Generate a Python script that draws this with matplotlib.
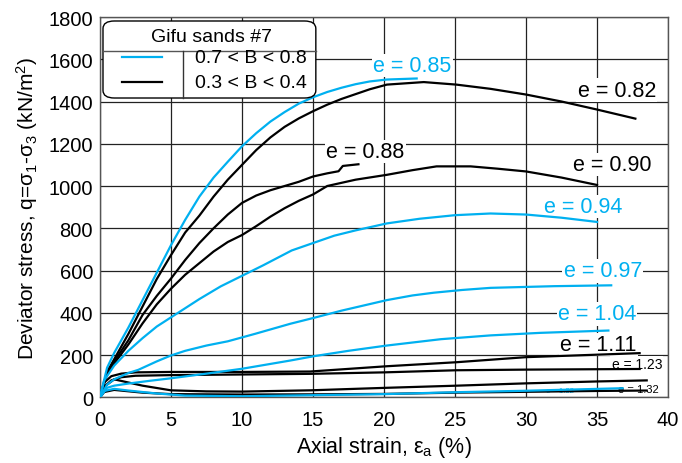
import matplotlib
matplotlib.use("Agg")
import matplotlib.pyplot as plt
from matplotlib.patches import FancyBboxPatch
from matplotlib.lines import Line2D

plt.rcParams['font.family'] = ['Liberation Sans', 'DejaVu Sans']
plt.rcParams['mathtext.fontset'] = 'custom'
plt.rcParams['mathtext.rm'] = 'Liberation Sans'
plt.rcParams['mathtext.it'] = 'Liberation Sans:italic'

CYAN = '#00B0F0'
BLACK = '#000000'

# ---- data (axial strain %, deviator stress kN/m2) ----
x_085 = [0, 0.5, 1, 2, 3, 4, 5, 6, 7, 8, 9, 10, 11, 12, 13, 14, 15, 16, 17, 18, 19, 20.2, 22.3]
q_085 = [0, 140, 210, 330, 460, 590, 720, 840, 950, 1040, 1115, 1188, 1250, 1305, 1350, 1390,
         1420, 1445, 1465, 1482, 1495, 1504, 1509]

x_082 = [0, 0.5, 1, 2, 3, 4, 5, 6, 7, 8, 9, 10, 11, 12, 13, 14, 15, 16, 17, 18, 19, 20.2,
         22.8, 25.1, 27.5, 30, 32.5, 35, 37.7]
q_082 = [0, 120, 180, 300, 430, 560, 673, 780, 860, 950, 1030, 1100, 1170, 1230, 1280, 1320,
         1354, 1385, 1412, 1435, 1458, 1480, 1492, 1480, 1460, 1433, 1400, 1362, 1319]

x_088 = [0, 0.5, 1, 2, 3, 4, 5, 6, 7, 8, 9, 10, 11, 12, 13, 14, 15, 16, 16.8, 17.1, 18.2]
q_088 = [0, 120, 170, 270, 390, 480, 562, 650, 730, 800, 865, 920, 955, 980, 1000, 1020,
         1045, 1060, 1070, 1095, 1103]

x_090 = [0, 0.5, 1, 2, 3, 4, 5, 6, 7, 8, 9, 10, 11, 12, 13, 14, 15, 16, 17, 18, 20.2, 22,
         23.7, 26.1, 28, 30, 32.5, 35]
q_090 = [0, 110, 160, 250, 350, 440, 514, 580, 635, 690, 735, 768, 810, 855, 895, 930, 960,
         1000, 1015, 1030, 1053, 1075, 1093, 1093, 1082, 1069, 1040, 1005]

x_094 = [0, 0.3, 1, 2, 3, 4, 5.5, 7, 8.5, 10, 11.5, 13.5, 15, 16.5, 18, 20.2, 22.5, 25, 27.5,
         30, 32.5, 35]
q_094 = [0, 80, 150, 220, 280, 335, 400, 465, 525, 575, 625, 695, 730, 765, 790, 823, 845,
         862, 870, 865, 850, 830]

x_097 = [0, 0.5, 1, 2, 2.7, 4, 5, 6, 7.5, 9, 10.9, 13.4, 15, 17, 20.2, 22, 23.5, 25.5, 27.5, 32, 36]
q_097 = [0, 60, 85, 115, 130, 170, 198, 220, 245, 265, 300, 348, 375, 410, 460, 482, 495,
         508, 518, 526, 530]

x_104 = [0, 0.5, 1, 2, 3.5, 5, 7.5, 10, 13.4, 15.1, 17.5, 20.2, 24, 27.5, 31, 35.8]
q_104 = [0, 45, 55, 65, 78, 90, 112, 135, 174, 195, 220, 245, 275, 293, 305, 316]

x_132c = [0, 0.3, 1, 2, 4, 6, 10, 15, 20, 25, 30, 36.8]
q_132c = [0, 30, 40, 32, 18, 8, 5, 10, 15, 24, 31, 43]

x_111 = [0, 0.3, 0.8, 1.5, 2.5, 5, 10, 14.8, 20.2, 25.1, 30, 34.7, 38]
q_111 = [0, 70, 100, 112, 118, 120, 120, 122, 147, 166, 190, 201, 209]

x_123 = [0, 0.3, 0.8, 1.5, 2.5, 5, 10, 14.8, 20, 25.1, 30, 38]
q_123 = [0, 50, 80, 95, 102, 105, 108, 111, 118, 128, 131, 134]

x_132a = [0, 0.3, 1, 2, 3, 5, 7.5, 10, 14.8, 20.2, 25.1, 30, 35, 38.5]
q_132a = [0, 50, 85, 70, 55, 33, 28, 27, 33, 45, 55, 66, 75, 80]

x_132b = [0, 0.3, 1, 3, 5, 10, 15, 20, 25, 30, 35, 38.5]
q_132b = [0, 25, 35, 22, 15, 13, 14, 16, 22, 26, 30, 32]

x_ticks = [0, 5, 10, 15, 20, 25, 30, 35, 40]
y_ticks = [0, 200, 400, 600, 800, 1000, 1200, 1400, 1600, 1800]

fig = plt.figure(figsize=(6.82, 4.64), dpi=100)
ax = fig.add_axes([0.1466, 0.1416, 0.8329, 0.8196])

lw = 1.6
cyan_series = [(x_085, q_085), (x_094, q_094), (x_097, q_097), (x_104, q_104), (x_132c, q_132c)]
black_series = [(x_082, q_082), (x_088, q_088), (x_090, q_090), (x_111, q_111),
                (x_123, q_123), (x_132a, q_132a), (x_132b, q_132b)]
for xs, qs in black_series:
    ax.plot(xs, qs, color=BLACK, lw=lw, zorder=3, solid_joinstyle='round')
for xs, qs in cyan_series:
    ax.plot(xs, qs, color=CYAN, lw=lw, zorder=4, solid_joinstyle='round')

ax.set_xlim(0, 40)
ax.set_ylim(0, 1800)
ax.set_xticks(x_ticks)
ax.set_yticks(y_ticks)
ax.grid(True, color='#222222', lw=0.9, zorder=1)
ax.set_axisbelow(True)
ax.tick_params(length=0, labelsize=14.5, pad=5)
ax.tick_params(axis='x', pad=9)
for s in ax.spines.values():
    s.set_color('#555555')
    s.set_linewidth(1.0)

ax.set_xlabel(r"Axial strain, $\mathregular{ε_a}$ (%)", fontsize=15.5, labelpad=4)
ax.set_ylabel(r"Deviator stress, q=$\mathregular{σ_1}$-$\mathregular{σ_3}$ (kN/m$\mathregular{^2}$)",
              fontsize=15, labelpad=6)

bb = dict(facecolor='white', edgecolor='none', pad=1.0)
labels = [
    ("e = 0.85", 22.0, 1571, CYAN, 15.5),
    ("e = 0.82", 36.4, 1454, BLACK, 15.5),
    ("e = 0.88", 18.7, 1164, BLACK, 15.5),
    ("e = 0.90", 36.1, 1102, BLACK, 15.5),
    ("e = 0.94", 34.0, 903, CYAN, 15.5),
    ("e = 0.97", 35.4, 599, CYAN, 15.5),
    ("e = 1.04", 35.0, 395, CYAN, 15.5),
    ("e = 1.11", 35.1, 250, BLACK, 15.5),
    ("e = 1.23", 37.8, 158, BLACK, 10),
    ("e = 1.32", 37.9, 39, BLACK, 8),
    ("e = 1.32", 32.4, 30, CYAN, 5.5),
]
for t, lx, ly, c, fs in labels:
    ax.text(lx, ly, t, color=c, fontsize=fs, ha='center', va='center', zorder=2.5,
            bbox=bb if fs > 6 else None)

# ---- custom table-like legend ----
box = FancyBboxPatch((0.0053, 0.787), 0.3747, 0.2025, boxstyle="round,pad=0,rounding_size=0.02",
                     transform=ax.transAxes, facecolor='white', edgecolor='black', lw=1.0, zorder=6)
ax.add_patch(box)
ax.add_line(Line2D([0.0053, 0.380], [0.911, 0.911], transform=ax.transAxes, color='#555555', lw=1.0, zorder=7))
ax.add_line(Line2D([0.146, 0.146], [0.787, 0.911], transform=ax.transAxes, color='#333333', lw=1.0, zorder=7))
ax.text(0.197, 0.948, "Gifu sands #7", transform=ax.transAxes, ha='center', va='center', fontsize=14, zorder=7)
ax.add_line(Line2D([0.0387, 0.109], [0.895, 0.895], transform=ax.transAxes, color=CYAN, lw=1.6, zorder=7))
ax.add_line(Line2D([0.0387, 0.109], [0.829, 0.829], transform=ax.transAxes, color=BLACK, lw=1.6, zorder=7))
ax.text(0.167, 0.893, "0.7 < B < 0.8", transform=ax.transAxes, ha='left', va='center', fontsize=14, zorder=7)
ax.text(0.167, 0.827, "0.3 < B < 0.4", transform=ax.transAxes, ha='left', va='center', fontsize=14, zorder=7)

fig.savefig("out.png", dpi=100)
